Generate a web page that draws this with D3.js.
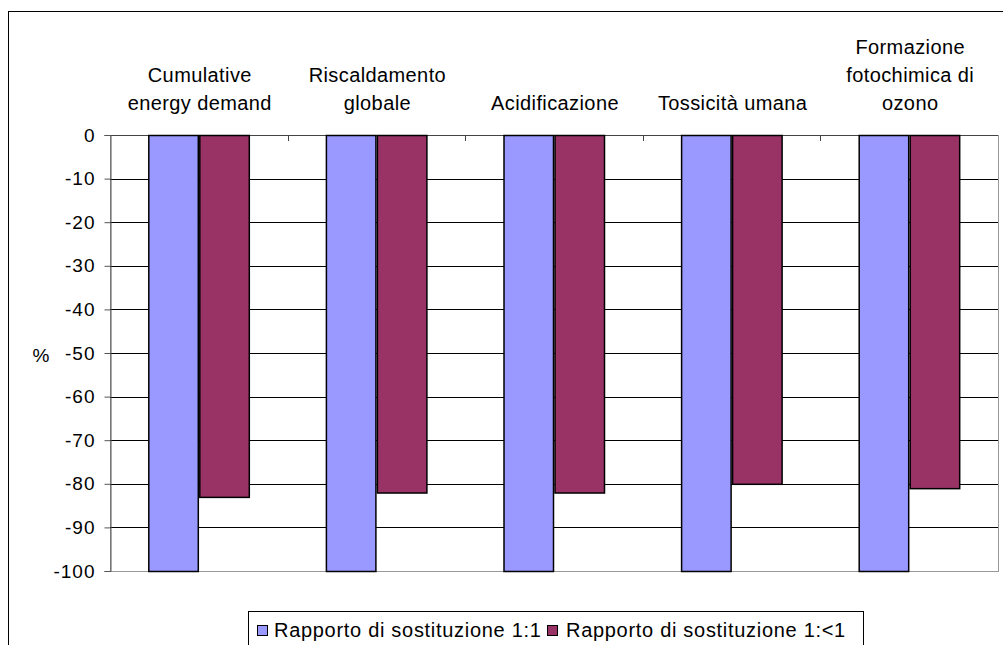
<!DOCTYPE html>
<html>
<head>
<meta charset="utf-8">
<script src="https://cdn.jsdelivr.net/npm/d3@7"></script>
<style>
  html, body { margin: 0; padding: 0; background: #fff; }
  svg { display: block; font-family: Arial, "Liberation Sans", sans-serif; }
</style>
</head>
<body>
<svg id="chart" width="1003" height="645"></svg>
<script>
// Impact categories (label lines) and percentage change for each substitution ratio
const categories = [
  ["Cumulative", "energy demand"],
  ["Riscaldamento", "globale"],
  ["Acidificazione"],
  ["Tossicità umana"],
  ["Formazione", "fotochimica di", "ozono"]
];
const seriesNames = ["Rapporto di sostituzione 1:1", "Rapporto di sostituzione 1:<1"];
const ratio11 = [-100, -100, -100, -100, -100];
const ratioLess1 = [-83, -82, -82, -80, -81];
const yTicks = [0, -10, -20, -30, -40, -50, -60, -70, -80, -90, -100];
const colors = ["#9999FF", "#993366"];

const svg = d3.select("#chart");

// Outer chart frame
svg.append("rect")
  .attr("x", 8.5).attr("y", 11.5)
  .attr("width", 1010).attr("height", 700)
  .attr("fill", "#fff").attr("stroke", "#000").attr("stroke-width", 1);

const plot = { left: 110, right: 998, top: 135, bottom: 571 };

const y = d3.scaleLinear().domain([0, -100]).range([plot.top, plot.bottom]);
const x0 = d3.scaleBand()
  .domain(d3.range(categories.length))
  .range([plot.left, plot.right])
  .paddingInner(0).paddingOuter(0);
const x1 = d3.scaleBand()
  .domain([0, 1])
  .range([0, 101]);

const barOffset = (x0.bandwidth() - 101) / 2;

// Plot area background and border
svg.append("rect")
  .attr("x", plot.left + 0.5).attr("y", plot.top + 0.5)
  .attr("width", plot.right - plot.left).attr("height", plot.bottom - plot.top)
  .attr("fill", "#fff").attr("stroke", "#999").attr("stroke-width", 1);

// Horizontal gridlines
svg.append("g")
  .selectAll("line")
  .data(yTicks.filter(t => t !== 0 && t !== -100))
  .join("line")
  .attr("x1", plot.left).attr("x2", plot.right)
  .attr("y1", d => Math.round(y(d)) + 0.5).attr("y2", d => Math.round(y(d)) + 0.5)
  .attr("stroke", "#000").attr("stroke-width", 1);

// Category axis line along zero, with ticks between categories
svg.append("line")
  .attr("x1", plot.left).attr("x2", plot.right)
  .attr("y1", y(0) + 0.5).attr("y2", y(0) + 0.5)
  .attr("stroke", "#444");
svg.append("g")
  .selectAll("line")
  .data(d3.range(1, categories.length))
  .join("line")
  .attr("x1", d => Math.round(x0(d)) + 0.5).attr("x2", d => Math.round(x0(d)) + 0.5)
  .attr("y1", y(0)).attr("y2", y(0) + 6)
  .attr("stroke", "#444");

// Bars
const series = [ratio11, ratioLess1];
const groups = svg.append("g")
  .selectAll("g")
  .data(categories.map((c, i) => i))
  .join("g")
  .attr("transform", i => `translate(${x0(i) + barOffset},0)`);

groups.selectAll("rect")
  .data(i => series.map((s, k) => ({ k, v: s[i] })))
  .join("rect")
  .attr("x", d => Math.round(x1(d.k)) + 0.5)
  .attr("width", x1.bandwidth() - 1)
  .attr("y", y(0) + 0.5)
  .attr("height", d => y(d.v) - y(0))
  .attr("fill", d => colors[d.k])
  .attr("stroke", "#000")
  .attr("stroke-width", 1.5);

// Y axis
const yAxis = d3.axisLeft(y).tickValues(yTicks).tickSize(6).tickPadding(9)
  .tickFormat(d => d3.format("d")(d).replace("−", "-"));
const ya = svg.append("g")
  .attr("transform", `translate(${plot.left + 0.5},0)`)
  .call(yAxis);
ya.select(".domain").attr("stroke", "#555");
ya.selectAll(".tick line").attr("stroke", "#555");
ya.selectAll(".tick text")
  .attr("font-size", 19)
  .attr("letter-spacing", 1)
  .attr("font-family", "Arial, 'Liberation Sans', sans-serif")
  .attr("fill", "#000");

// Axis title
svg.append("text")
  .attr("x", 41).attr("y", 362)
  .attr("text-anchor", "middle")
  .attr("font-size", 19)
  .text("%");

// Category labels above the plot
const lineH = 28;
svg.append("g")
  .selectAll("text")
  .data(categories.map((lines, i) => ({ lines, i })))
  .join("text")
  .attr("text-anchor", "middle")
  .attr("font-size", 20)
  .attr("letter-spacing", 0.4)
  .attr("fill", "#000")
  .each(function(d) {
    const t = d3.select(this);
    const n = d.lines.length;
    d.lines.forEach((ln, j) => {
      t.append("tspan")
        .attr("x", x0(d.i) + x0.bandwidth() / 2 + 1)
        .attr("y", 110 - (n - 1 - j) * lineH)
        .text(ln);
    });
  });

// Legend
const legend = svg.append("g");
legend.append("rect")
  .attr("x", 248.5).attr("y", 611.5)
  .attr("width", 615).attr("height", 60)
  .attr("fill", "#fff").attr("stroke", "#000");
const legendItems = [
  { x: 257, tx: 274 },
  { x: 547, tx: 566 }
];
legendItems.forEach((it, k) => {
  legend.append("rect")
    .attr("x", it.x + 0.5).attr("y", 625.5)
    .attr("width", 10).attr("height", 10)
    .attr("fill", colors[k]).attr("stroke", "#000");
  legend.append("text")
    .attr("x", it.tx).attr("y", 637)
    .attr("font-size", 20)
    .attr("letter-spacing", 0.7)
    .text(seriesNames[k]);
});
</script>
</body>
</html>
